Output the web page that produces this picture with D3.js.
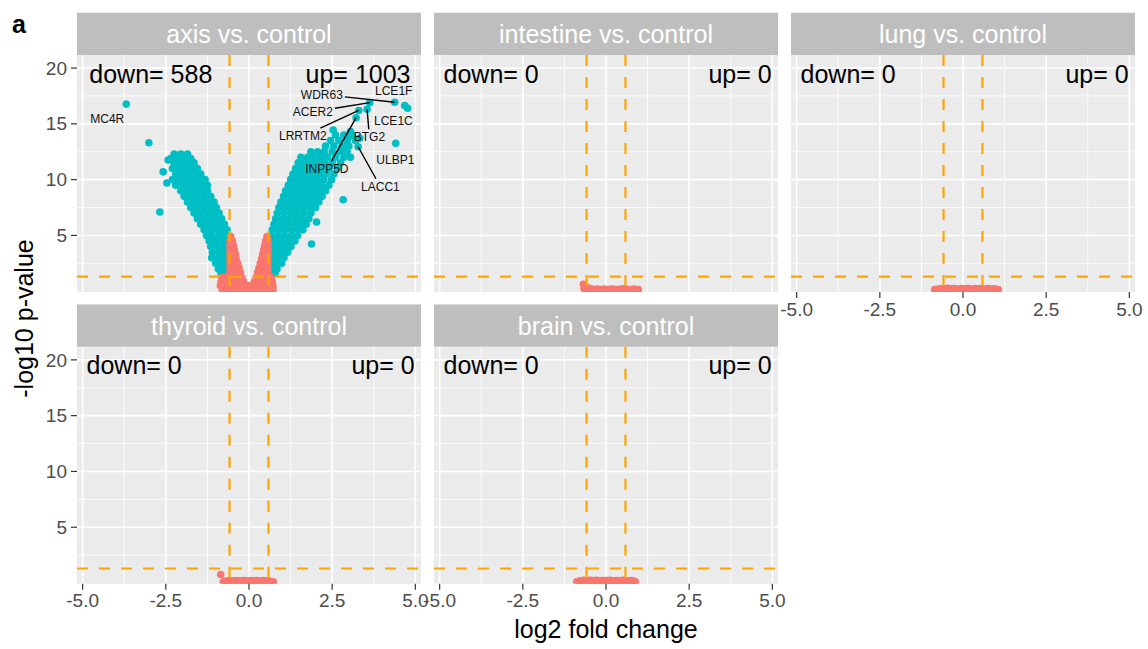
<!DOCTYPE html>
<html><head><meta charset="utf-8">
<script src="https://cdn.jsdelivr.net/npm/d3@7"></script>
<style>
body{margin:0;background:#fff;}
svg{display:block;font-family:"Liberation Sans",Arial,Helvetica,sans-serif;}
</style>
</head><body>
<svg id="chart" width="1148" height="649"></svg>
<script>
// ---------------- DATA ----------------
const facets = ["axis vs. control","intestine vs. control","lung vs. control","thyroid vs. control","brain vs. control"];
const downCounts = [588,0,0,0,0];
const upCounts = [1003,0,0,0,0];
const xTicks = [-5,-2.5,0,2.5,5];
const xTickLabels = ["-5.0","-2.5","0.0","2.5","5.0"];
const yTicks = [5,10,15,20];
const yTickLabels = ["5","10","15","20"];
const fcCutoff = 0.585;      // log2(1.5)
const pCutoff = 1.301;       // -log10(0.05)

// axis vs. control: significant down-regulated cloud (rows: [-log10 p, [log2FC...]])
const axisDownRows = [
 [12.3,[-2.25,-2.05,-1.85]],
 [11.9,[-2.35,-2.15,-1.95,-1.75]],
 [11.5,[-2.25,-2.05,-1.85,-1.65]],
 [11.0,[-2.3,-2.1,-1.9,-1.7,-1.55]],
 [10.5,[-2.2,-2.0,-1.8,-1.6,-1.45]],
 [10.0,[-2.3,-2.1,-1.9,-1.7,-1.5,-1.32]],
 [9.5,[-2.2,-2.0,-1.8,-1.6,-1.4,-1.25]],
 [9.0,[-2.05,-1.85,-1.65,-1.45,-1.25]],
 [8.5,[-1.95,-1.75,-1.55,-1.35,-1.15]],
 [8.0,[-1.85,-1.65,-1.45,-1.25,-1.05]],
 [7.5,[-1.75,-1.55,-1.35,-1.15,-0.98]],
 [7.0,[-1.65,-1.45,-1.25,-1.05,-0.9]],
 [6.5,[-1.55,-1.35,-1.15,-0.95,-0.82]],
 [6.0,[-1.45,-1.25,-1.05,-0.85,-0.74]],
 [5.5,[-1.35,-1.15,-0.95,-0.75,-0.66]],
 [5.0,[-1.28,-1.1,-0.9,-0.72,-0.62]],
 [4.5,[-1.2,-1.0,-0.8,-0.64]],
 [4.0,[-1.15,-0.95,-0.75,-0.62]],
 [3.5,[-1.1,-0.9,-0.72,-0.62]],
 [3.0,[-1.12,-0.92,-0.74,-0.64]],
 [2.5,[-1.0,-0.82,-0.66]],
 [2.0,[-0.92,-0.74,-0.64]],
 [1.6,[-0.84,-0.68]]
];
// axis vs. control: significant up-regulated cloud
const axisUpRows = [
 [1.6,[0.64,0.78]],
 [2.0,[0.66,0.84]],
 [2.5,[0.63,0.8,0.98]],
 [3.0,[0.66,0.86,1.05]],
 [3.5,[0.63,0.8,1.0,1.16]],
 [4.0,[0.66,0.86,1.06,1.26]],
 [4.5,[0.63,0.8,1.0,1.2,1.38]],
 [5.0,[0.66,0.86,1.06,1.26,1.46]],
 [5.5,[0.7,0.9,1.1,1.3,1.5,1.62]],
 [6.0,[0.75,0.95,1.15,1.35,1.55,1.72]],
 [6.5,[0.8,1.0,1.2,1.4,1.6,1.8]],
 [7.0,[0.85,1.05,1.25,1.45,1.65,1.86]],
 [7.5,[0.9,1.1,1.3,1.5,1.7,1.9,2.0]],
 [8.0,[0.96,1.16,1.36,1.56,1.76,1.96,2.1]],
 [8.5,[1.04,1.24,1.44,1.64,1.84,2.04,2.2]],
 [9.0,[1.1,1.3,1.5,1.7,1.9,2.1,2.3]],
 [9.5,[1.18,1.38,1.58,1.78,1.98,2.18,2.4]],
 [10.0,[1.25,1.45,1.65,1.85,2.05,2.25,2.48]],
 [10.5,[1.32,1.52,1.72,1.92,2.12,2.32,2.55]],
 [11.0,[1.4,1.6,1.8,2.0,2.2,2.4,2.65]],
 [11.5,[1.48,1.68,1.88,2.08,2.28,2.5,2.75]],
 [12.0,[1.56,1.76,1.96,2.16,2.36,2.6,2.85,3.05]],
 [12.5,[1.86,2.06,2.26,2.5,2.75,2.95]],
 [13.0,[2.3,2.55,2.8,3.0]],
 [13.5,[2.45,2.7,2.95,3.2]],
 [14.0,[2.6,2.85,3.1]]
];
// axis vs. control: isolated significant genes [log2FC, -log10 p]
const axisSigPoints = [
 [-3.69,16.77],[-3.01,13.3],[-2.68,7.1],[-2.58,10.7],[-2.43,11.75],[-2.47,9.7],
 [1.88,4.23],[2.03,6.2],[2.83,8.2],[2.53,14.45],[2.98,13.75],[2.83,12.5],[3.28,12.95],
 [3.33,13.7],[3.05,14.3],[3.3,16.2],[3.22,15.55],[3.55,16.3],[3.63,16.9],
 [4.38,16.93],[4.68,16.65],[4.77,16.4],[4.41,13.25]
];
// axis vs. control: non-significant genes (rows)
const axisNsRows = [
 [4.9,[-0.55,0.54]],
 [4.5,[-0.57,-0.5,0.5,0.57]],
 [4.1,[-0.57,-0.47,0.47,0.57]],
 [3.7,[-0.57,-0.49,-0.44,0.44,0.5,0.57]],
 [3.3,[-0.57,-0.48,-0.41,0.41,0.49,0.57]],
 [2.9,[-0.57,-0.48,-0.39,0.38,0.47,0.56]],
 [2.5,[-0.57,-0.47,-0.37,-0.34,0.34,0.43,0.52,0.57]],
 [2.1,[-0.57,-0.48,-0.39,-0.3,0.3,0.39,0.48,0.57]],
 [1.7,[-0.57,-0.48,-0.39,-0.3,-0.26,0.26,0.35,0.45,0.55]],
 [1.25,[-0.8,-0.68,-0.56,-0.44,-0.32,-0.22,0.22,0.32,0.44,0.56,0.66]],
 [0.9,[-0.84,-0.72,-0.6,-0.48,-0.36,-0.24,-0.17,0.17,0.28,0.4,0.52,0.62,0.7]],
 [0.5,[-0.86,-0.74,-0.62,-0.5,-0.38,-0.26,-0.14,-0.05,0.05,0.14,0.26,0.38,0.5,0.62,0.72]],
 [0.12,[-0.8,-0.68,-0.56,-0.44,-0.32,-0.2,-0.08,0.04,0.16,0.28,0.4,0.52,0.64,0.72]]
];
// other tissues: all genes non-significant [log2FC, -log10 p]
const intestineNs = [[-0.68,0.62],[-0.63,0.45],[-0.66,0.22],[-0.56,0.3],[-0.46,0.22],[-0.36,0.18],[-0.26,0.2],[-0.16,0.15],[-0.06,0.2],[0.05,0.15],[0.15,0.2],[0.25,0.18],[0.35,0.15],[0.45,0.2],[0.55,0.22],[0.65,0.18],[0.75,0.15],[0.85,0.2],[0.97,0.14],[-0.6,0.05],[-0.4,0.05],[-0.2,0.05],[0.0,0.05],[0.2,0.05],[0.4,0.05],[0.6,0.05],[0.8,0.05],[0.95,0.04]];
const lungNs = [[-0.85,0.14],[-0.75,0.2],[-0.65,0.25],[-0.55,0.22],[-0.45,0.26],[-0.35,0.22],[-0.25,0.25],[-0.15,0.2],[-0.05,0.24],[0.05,0.22],[0.15,0.25],[0.25,0.2],[0.35,0.24],[0.45,0.22],[0.55,0.25],[0.65,0.2],[0.75,0.23],[0.85,0.2],[0.95,0.22],[1.06,0.16],[-0.8,0.04],[-0.6,0.05],[-0.4,0.05],[-0.2,0.05],[0.0,0.05],[0.2,0.05],[0.4,0.05],[0.6,0.05],[0.8,0.05],[1.0,0.05]];
const thyroidNs = [[-0.85,0.76],[-0.77,0.12],[-0.67,0.2],[-0.57,0.22],[-0.47,0.2],[-0.37,0.23],[-0.27,0.2],[-0.17,0.22],[-0.07,0.2],[0.03,0.22],[0.13,0.2],[0.23,0.23],[0.33,0.2],[0.43,0.22],[0.53,0.2],[0.63,0.18],[0.73,0.12],[-0.7,0.04],[-0.5,0.05],[-0.3,0.05],[-0.1,0.05],[0.1,0.05],[0.3,0.05],[0.5,0.05],[0.7,0.04]];
const brainNs = [[-0.88,0.12],[-0.78,0.2],[-0.68,0.24],[-0.58,0.22],[-0.48,0.25],[-0.38,0.22],[-0.28,0.24],[-0.18,0.2],[-0.08,0.23],[0.02,0.22],[0.12,0.25],[0.22,0.2],[0.32,0.23],[0.42,0.22],[0.52,0.24],[0.62,0.2],[0.72,0.22],[0.82,0.2],[0.88,0.12],[-0.8,0.04],[-0.6,0.05],[-0.4,0.05],[-0.2,0.05],[0.0,0.05],[0.2,0.05],[0.4,0.05],[0.6,0.05],[0.8,0.05]];

// labelled genes (axis vs. control)
const geneNames  = ["MC4R","WDR63","LCE1F","ACER2","LCE1C","LRRTM2","BTG2","INPP5D","LACC1","ULBP1"];
const genePointX = [-3.69,4.38,4.68,3.63,4.77,3.3,3.55,3.22,3.28,4.41];
const genePointY = [16.77,16.93,16.65,16.9,16.4,16.2,16.3,15.55,12.95,13.25];
const geneLabelX = [-4.26,2.19,4.35,1.92,4.34,1.62,3.62,2.34,3.95,4.40];
const geneLabelY = [15.49,17.64,17.95,16.08,15.25,13.9,13.8,10.95,9.36,11.82];

// ---------------- LAYOUT ----------------
const svg = d3.select("#chart");
const colX = [77,434,791];
const rowY = [12.7,304.5];          // strip tops
const stripH = 42.3, panelW = 344, panelH = 237;
const facetCol = [0,1,2,0,1], facetRow = [0,0,0,1,1];
const showX = [false,false,true,true,true];
const showY = [true,false,false,true,false];
const COL_SIG = "#00BFC4", COL_NS = "#F8766D", COL_LINE = "#FFA500";

const x = d3.scaleLinear().domain([-5.17,5.17]).range([0,panelW]);
const y = d3.scaleLinear().domain([-0.07,21.17]).range([panelH,0]);
const xMinor = [-3.75,-1.25,1.25,3.75];
const yMinor = [2.5,7.5,12.5,17.5];

function rowsToPoints(rows){
  const out=[];
  rows.forEach(r=>r[1].forEach(v=>out.push([v,r[0]])));
  return out;
}
const facetPoints = [
  {sig: rowsToPoints(axisDownRows).concat(rowsToPoints(axisUpRows)).concat(axisSigPoints), ns: rowsToPoints(axisNsRows)},
  {sig: [], ns: intestineNs},
  {sig: [], ns: lungNs},
  {sig: [], ns: thyroidNs},
  {sig: [], ns: brainNs}
];

const defs = svg.append("defs");

facets.forEach((name,i)=>{
  const ox = colX[facetCol[i]], oy = rowY[facetRow[i]] + stripH;
  const g = svg.append("g").attr("transform",`translate(${ox},${oy})`);

  // strip
  g.append("rect").attr("x",0).attr("y",-stripH).attr("width",panelW).attr("height",stripH).attr("fill","#BEBEBE");
  g.append("text").attr("x",panelW/2).attr("y",-11.7).attr("text-anchor","middle")
    .attr("font-size",25).attr("fill","#FFFFFF").text(name);

  // panel
  g.append("rect").attr("width",panelW).attr("height",panelH).attr("fill","#EBEBEB");
  g.selectAll(".gxm").data(xMinor).enter().append("line")
    .attr("x1",d=>x(d)).attr("x2",d=>x(d)).attr("y1",0).attr("y2",panelH)
    .attr("stroke","#fff").attr("stroke-width",0.8);
  g.selectAll(".gym").data(yMinor).enter().append("line")
    .attr("y1",d=>y(d)).attr("y2",d=>y(d)).attr("x1",0).attr("x2",panelW)
    .attr("stroke","#fff").attr("stroke-width",0.8);
  g.selectAll(".gx").data(xTicks).enter().append("line")
    .attr("x1",d=>x(d)).attr("x2",d=>x(d)).attr("y1",0).attr("y2",panelH)
    .attr("stroke","#fff").attr("stroke-width",1.6);
  g.selectAll(".gy").data(yTicks).enter().append("line")
    .attr("y1",d=>y(d)).attr("y2",d=>y(d)).attr("x1",0).attr("x2",panelW)
    .attr("stroke","#fff").attr("stroke-width",1.6);

  // points
  const cid = "clip"+i;
  defs.append("clipPath").attr("id",cid).append("rect").attr("width",panelW).attr("height",panelH);
  const pg = g.append("g").attr("clip-path",`url(#${cid})`);
  pg.selectAll(".s").data(facetPoints[i].sig).enter().append("circle")
    .attr("cx",d=>x(d[0])).attr("cy",d=>y(d[1])).attr("r",3.8).attr("fill",COL_SIG);
  pg.selectAll(".n").data(facetPoints[i].ns).enter().append("circle")
    .attr("cx",d=>x(d[0])).attr("cy",d=>y(d[1])).attr("r",3.8).attr("fill",COL_NS);

  // threshold lines
  [-fcCutoff,fcCutoff].forEach(v=>{
    g.append("line").attr("x1",x(v)).attr("x2",x(v)).attr("y1",0).attr("y2",panelH)
      .attr("stroke",COL_LINE).attr("stroke-width",2.2).attr("stroke-dasharray","11,11");
  });
  g.append("line").attr("x1",0).attr("x2",panelW).attr("y1",y(pCutoff)).attr("y2",y(pCutoff))
    .attr("stroke",COL_LINE).attr("stroke-width",2.2).attr("stroke-dasharray","11,11");

  // counts
  const dt = g.append("text").attr("y",27.7).attr("font-size",25).attr("fill","#000").text("down= "+downCounts[i]);
  dt.attr("x",0.1*dt.node().getComputedTextLength());
  const ut = g.append("text").attr("y",27.7).attr("font-size",25).attr("fill","#000").attr("text-anchor","end").text("up= "+upCounts[i]);
  ut.attr("x",panelW-0.1*ut.node().getComputedTextLength());

  // axes
  if(showY[i]){
    yTicks.forEach((t,k)=>{
      g.append("line").attr("x1",-6).attr("x2",0).attr("y1",y(t)).attr("y2",y(t)).attr("stroke","#333").attr("stroke-width",1.2);
      g.append("text").attr("x",-10).attr("y",y(t)).attr("dy","0.35em").attr("text-anchor","end")
        .attr("font-size",19).attr("fill","#4D4D4D").text(yTickLabels[k]);
    });
  }
  if(showX[i]){
    xTicks.forEach((t,k)=>{
      g.append("line").attr("x1",x(t)).attr("x2",x(t)).attr("y1",panelH).attr("y2",panelH+6).attr("stroke","#333").attr("stroke-width",1.2);
      g.append("text").attr("x",x(t)).attr("y",panelH+23.5).attr("text-anchor","middle")
        .attr("font-size",19).attr("fill","#4D4D4D").text(xTickLabels[k]);
    });
  }

  // gene labels (only first facet)
  if(i===0){
    geneNames.forEach((gn,k)=>{
      const px = x(genePointX[k]), py = y(genePointY[k]);
      const lx = x(geneLabelX[k]), ly = y(geneLabelY[k]);
      const t = g.append("text").attr("x",lx).attr("y",ly).attr("dy","0.35em").attr("text-anchor","middle")
        .attr("font-size",12).attr("fill","#111").text(gn);
      const hw = t.node().getComputedTextLength()/2 + 2, hh = 8;
      const dx = px-lx, dy = py-ly;
      const tx = dx!==0 ? hw/Math.abs(dx) : Infinity;
      const ty = dy!==0 ? hh/Math.abs(dy) : Infinity;
      const tt = Math.min(tx,ty);
      if(tt<1){
        const sx = lx+dx*tt, sy = ly+dy*tt;
        const dist = Math.hypot(px-sx,py-sy);
        if(dist>12){
          g.append("line").attr("x1",sx).attr("y1",sy).attr("x2",px).attr("y2",py)
            .attr("stroke","#000").attr("stroke-width",1.4);
        }
      }
    });
  }
});

// axis titles
svg.append("text").attr("transform","translate(33,318.5) rotate(-90)").attr("text-anchor","middle")
  .attr("font-size",25).attr("fill","#000").text("-log10 p-value");
svg.append("text").attr("x",606).attr("y",637.5).attr("text-anchor","middle")
  .attr("font-size",25).attr("fill","#000").text("log2 fold change");
// panel tag
svg.append("text").attr("x",12).attr("y",33).attr("font-size",25).attr("font-weight","bold").attr("fill","#000").text("a");
</script>
</body></html>
